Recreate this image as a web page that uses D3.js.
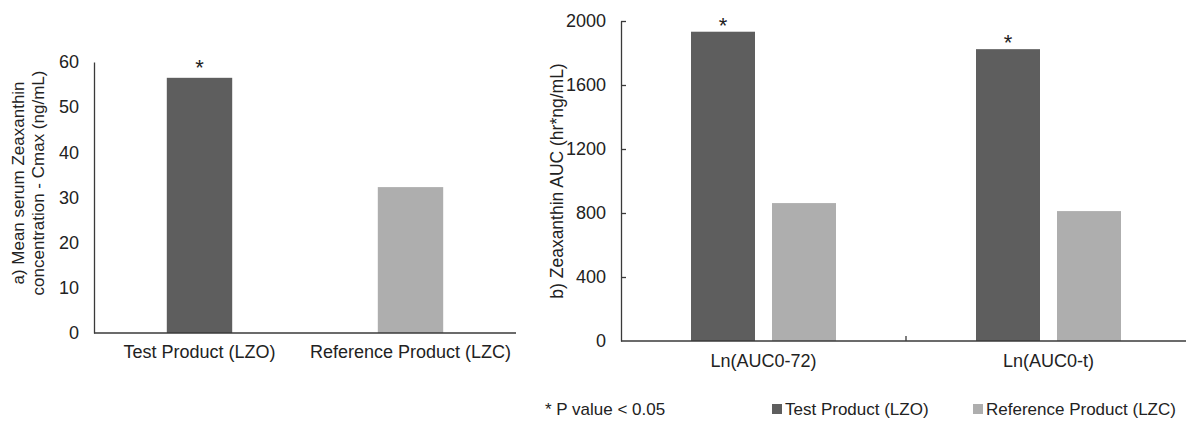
<!DOCTYPE html>
<html>
<head>
<meta charset="utf-8">
<script src="https://cdn.jsdelivr.net/npm/d3@7"></script>
<style>
  html, body { margin: 0; padding: 0; background: #fff; }
  svg { display: block; font-family: "Liberation Sans", Arial, sans-serif; }
  .axis path, .axis line { stroke: #3a3a3a; stroke-width: 1.3; }
  .axis text { fill: #222; font-size: 18px; font-family: "Liberation Sans", Arial, sans-serif; }
</style>
</head>
<body>
<svg id="chart" width="1186" height="421"></svg>
<script>
// ---- Data ----
const productsA = ["Test Product (LZO)", "Reference Product (LZC)"];
const cmaxValues = [56.5, 32.3];
const cmaxSignificant = [true, false];
const cmaxTicks = [0, 10, 20, 30, 40, 50, 60];

const aucCategories = ["Ln(AUC0-72)", "Ln(AUC0-t)"];
const seriesNames = ["Test Product (LZO)", "Reference Product (LZC)"];
const testAUC = [1933, 1824];
const refAUC = [862, 812];
const aucSignificant = [true, true];
const aucTicks = [0, 400, 800, 1200, 1600, 2000];

const colors = ["#5e5e5e", "#aeaeae"];
const noteText = "* P value < 0.05";

const svg = d3.select("#chart");

// ---- Panel a ----
const ya = d3.scaleLinear().domain([0, 60]).range([333, 62]);
const xa = d3.scaleBand().domain(productsA).range([94, 516]).paddingInner(0.69).paddingOuter(0.345);

const ga = svg.append("g");
ga.selectAll("rect.bar").data(productsA).join("rect")
  .attr("class", "bar")
  .attr("x", d => xa(d))
  .attr("width", xa.bandwidth())
  .attr("y", (d, i) => ya(cmaxValues[i]))
  .attr("height", (d, i) => ya(0) - ya(cmaxValues[i]))
  .attr("fill", (d, i) => colors[i]);

ga.selectAll("text.star").data(productsA.filter((d, i) => cmaxSignificant[i])).join("text")
  .attr("class", "star")
  .attr("x", d => xa(d) + xa.bandwidth() / 2)
  .attr("y", d => ya(cmaxValues[productsA.indexOf(d)]) - 3)
  .attr("text-anchor", "middle")
  .attr("font-size", 22).attr("fill", "#222")
  .text("*");

ga.append("g").attr("class", "axis").attr("transform", "translate(94,0)")
  .call(d3.axisLeft(ya).tickValues(cmaxTicks).tickFormat(d3.format("d")).tickSize(0).tickPadding(15));
const xAxisA = ga.append("g").attr("class", "axis").attr("transform", "translate(0,333)")
  .call(d3.axisBottom(xa).tickSize(0).tickPadding(12));
xAxisA.select(".domain").attr("d", "M94,0H516");

const ylabA = ga.append("text")
  .attr("transform", "translate(24,183) rotate(-90)")
  .attr("text-anchor", "middle").attr("font-size", 17).attr("fill", "#222");
ylabA.append("tspan").attr("x", 0).attr("dy", "0").text("a) Mean serum Zeaxanthin");
ylabA.append("tspan").attr("x", 0).attr("dy", "1.2em").text("concentration - Cmax (ng/mL)");

// ---- Panel b ----
const yb = d3.scaleLinear().domain([0, 2000]).range([341, 21]);
const x0 = d3.scaleBand().domain(aucCategories).range([621, 1191]);
const x1 = d3.scaleBand().domain(seriesNames).range([70, 215]).paddingInner(0.21);
const aucRows = aucCategories.map((c, i) => ({
  cat: c,
  vals: [
    { s: seriesNames[0], v: testAUC[i], sig: aucSignificant[i] },
    { s: seriesNames[1], v: refAUC[i], sig: false }
  ]
}));

const gb = svg.append("g");
const groups = gb.selectAll("g.grp").data(aucRows).join("g")
  .attr("class", "grp")
  .attr("transform", d => `translate(${x0(d.cat)},0)`);
groups.selectAll("rect").data(d => d.vals).join("rect")
  .attr("x", d => x1(d.s))
  .attr("width", x1.bandwidth())
  .attr("y", d => yb(d.v))
  .attr("height", d => yb(0) - yb(d.v))
  .attr("fill", (d, i) => colors[i]);
groups.selectAll("text.star").data(d => d.vals.filter(v => v.sig)).join("text")
  .attr("class", "star")
  .attr("x", d => x1(d.s) + x1.bandwidth() / 2)
  .attr("y", d => yb(d.v) + 1)
  .attr("text-anchor", "middle")
  .attr("font-size", 22).attr("fill", "#222")
  .text("*");

gb.append("g").attr("class", "axis").attr("transform", "translate(621,0)")
  .call(d3.axisLeft(yb).tickValues(aucTicks).tickFormat(d3.format("d")).tickSizeInner(-5).tickSizeOuter(0).tickPadding(15))
  .call(g => g.selectAll(".tick").filter(d => d === 0).select("line").remove());

const xAxisB = gb.append("g").attr("class", "axis").attr("transform", "translate(0,341)")
  .call(d3.axisBottom(x0).tickSize(0).tickPadding(13));
xAxisB.select(".domain").attr("d", "M621,0H1191");
xAxisB.selectAll("line.sep").data(aucCategories.slice(1)).join("line")
  .attr("class", "sep")
  .attr("x1", d => x0(d)).attr("x2", d => x0(d))
  .attr("y1", 0).attr("y2", -5);

gb.append("text")
  .attr("transform", "translate(563,181) rotate(-90)")
  .attr("text-anchor", "middle").attr("font-size", 17.5).attr("fill", "#222")
  .text("b) Zeaxanthin AUC (hr*ng/mL)");

// ---- Legend ----
const lg = svg.append("g").attr("font-size", 17).attr("fill", "#222");
lg.append("text").attr("x", 545).attr("y", 415).text(noteText);
const legX = [772, 973];
seriesNames.forEach((s, i) => {
  lg.append("rect").attr("x", legX[i]).attr("y", 404).attr("width", 10).attr("height", 10).attr("fill", colors[i]);
  lg.append("text").attr("x", legX[i] + 13).attr("y", 415).text(s);
});
</script>
</body>
</html>
